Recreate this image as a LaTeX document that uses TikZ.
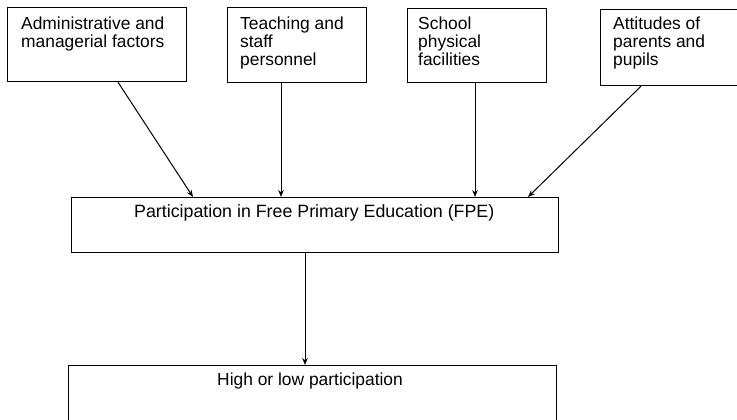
\documentclass[tikz,border=0pt]{standalone}
\usepackage{fontspec}
\setmainfont{Liberation Sans}
\usetikzlibrary{arrows.meta}
\begin{document}
\begin{tikzpicture}[x=1pt,y=-1pt,
  box/.style={draw, line width=1.2pt, rectangle, inner sep=0pt, anchor=north west},
  txt/.style={inner sep=0pt, anchor=base west, align=left,
    font=\fontsize{17.4}{18}\selectfont},
  mtxt/.style={txt, anchor=north west},
  conn/.style={line width=1pt, -{Stealth[length=7pt,width=5.5pt]}}]
\useasboundingbox[fill=white] (0,0) rectangle (737,420);
% top boxes
\node[box, minimum width=179pt, minimum height=74pt] (b1) at (7,7) {};
\node[box, minimum width=139pt, minimum height=75pt] (b2) at (227,7) {};
\node[box, minimum width=139pt, minimum height=74pt] (b3) at (407,8) {};
\node[box, minimum width=145pt, minimum height=76pt] (b4) at (600,9) {};
% middle and bottom boxes
\node[box, minimum width=487pt, minimum height=55pt] (fpe) at (71,197) {};
\node[box, minimum width=488pt, minimum height=70pt] (out) at (68,365) {};
% texts
\node[mtxt] (t1) at (21,16.5) {Administrative and\\managerial factors};
\node[mtxt] (t2) at (240,16.5) {Teaching and\\staff\\personnel};
\node[mtxt] (t3) at (418,16.5) {School\\physical\\facilities};
\node[mtxt] (t4) at (613,16.5) {Attitudes of\\parents and\\pupils};
\node[txt, font=\fontsize{17.8}{18}\selectfont] (t5) at (134,217) {Participation in Free Primary Education (FPE)};
\node[txt] (t6) at (217,385) {High or low participation};
% connectors
\draw[conn] ([xshift=111pt]b1.south west) -- ([xshift=122pt]fpe.north west);
\draw[conn] ([xshift=54pt]b2.south west) -- ([xshift=54pt]b2.south west |- fpe.north);
\draw[conn] ([xshift=68pt]b3.south west) -- ([xshift=68pt]b3.south west |- fpe.north);
\draw[conn] ([xshift=41pt]b4.south west) -- ([xshift=457pt]fpe.north west);
\draw[conn] ([xshift=234pt]fpe.south west) -- ([xshift=234pt]fpe.south west |- out.north);
\end{tikzpicture}
\end{document}
